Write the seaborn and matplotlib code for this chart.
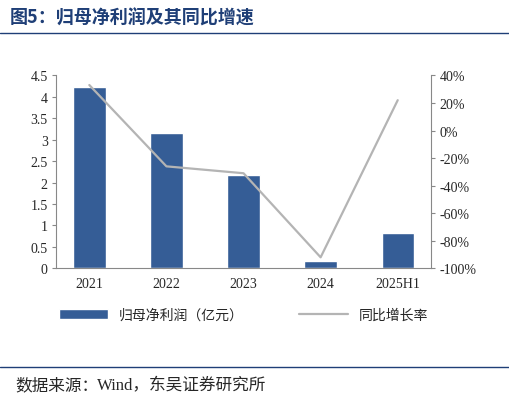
import matplotlib.pyplot as plt
import seaborn as sns
import pandas as pd
from matplotlib.ticker import FuncFormatter

years = ['2021', '2022', '2023', '2024', '2025H1']
profit = [4.22, 3.15, 2.18, 0.17, 0.82]
growth = [33, -26, -31, -92, 22]

sns.set_style('white')
plt.rcParams['font.family'] = ['Noto Sans CJK SC', 'DejaVu Sans']
plt.rcParams['font.serif'] = ['Liberation Serif']

fig = plt.figure(figsize=(5.1, 4.02), dpi=100)
ax = fig.add_axes([0.11, 0.33, 0.735, 0.48])
df = pd.DataFrame({'year': years, 'profit': profit, 'growth': growth})
sns.barplot(data=df, x='year', y='profit', color='#355D96', width=0.42, ax=ax,
            saturation=1, label='归母净利润（亿元）')
ax.set_ylim(0, 4.5)
ax.set_yticks([0, 0.5, 1, 1.5, 2, 2.5, 3, 3.5, 4, 4.5])
ax.yaxis.set_major_formatter(FuncFormatter(lambda v, p: f'{v:g}'))
ax.set_xlabel('')
ax.set_ylabel('')

ax2 = ax.twinx()
sns.lineplot(x=range(len(years)), y=growth, color='#B4B4B4', lw=1.6, ax=ax2, label='同比增长率')
ax2.set_ylim(-100, 40)
ax2.set_yticks(range(-100, 41, 20))
ax2.yaxis.set_major_formatter(FuncFormatter(lambda v, p: f'{v:.0f}%'))
ax2.legend_.remove()

for a in (ax, ax2):
    for s in a.spines.values():
        s.set_visible(False)
    a.tick_params(labelsize=10, length=0, pad=3)
    for t in a.get_xticklabels() + a.get_yticklabels():
        t.set_fontfamily('Liberation Serif')
ax.spines['bottom'].set_visible(True)
ax.spines['bottom'].set_color('#888888')
ax.spines['left'].set_visible(True)
ax.spines['left'].set_color('#888888')
ax2.spines['right'].set_visible(True)
ax2.spines['right'].set_color('#888888')
ax.tick_params(axis='y', length=3, direction='out', color='#888888', left=True)
ax2.tick_params(axis='y', length=3, direction='out', color='#888888', right=True)
ax.tick_params(axis='x', pad=6)

h1, l1 = ax.get_legend_handles_labels()
h2, l2 = ax2.get_legend_handles_labels()
ax.legend(h1 + h2, l1 + l2, loc='upper center', bbox_to_anchor=(0.5, -0.14), ncol=2,
          frameon=False, fontsize=10, handlelength=3.5, columnspacing=4)

fig.text(0.02, 0.955, '图5：归母净利润及其同比增速', fontsize=13, fontweight='bold',
         color='#1F3F77', va='center')
fig.add_artist(plt.Line2D([0.0, 1.0], [0.915, 0.915], color='#1F3F77', lw=1))
fig.add_artist(plt.Line2D([0.0, 1.0], [0.085, 0.085], color='#1F3F77', lw=1))
fig.text(0.03, 0.04, '数据来源：', fontsize=12, va='center')
fig.text(0.19, 0.04, 'Wind，东吴证券研究所', fontsize=12, va='center',
         family=['Liberation Serif', 'Noto Sans CJK SC'])

fig.savefig('out.png', dpi=100)
